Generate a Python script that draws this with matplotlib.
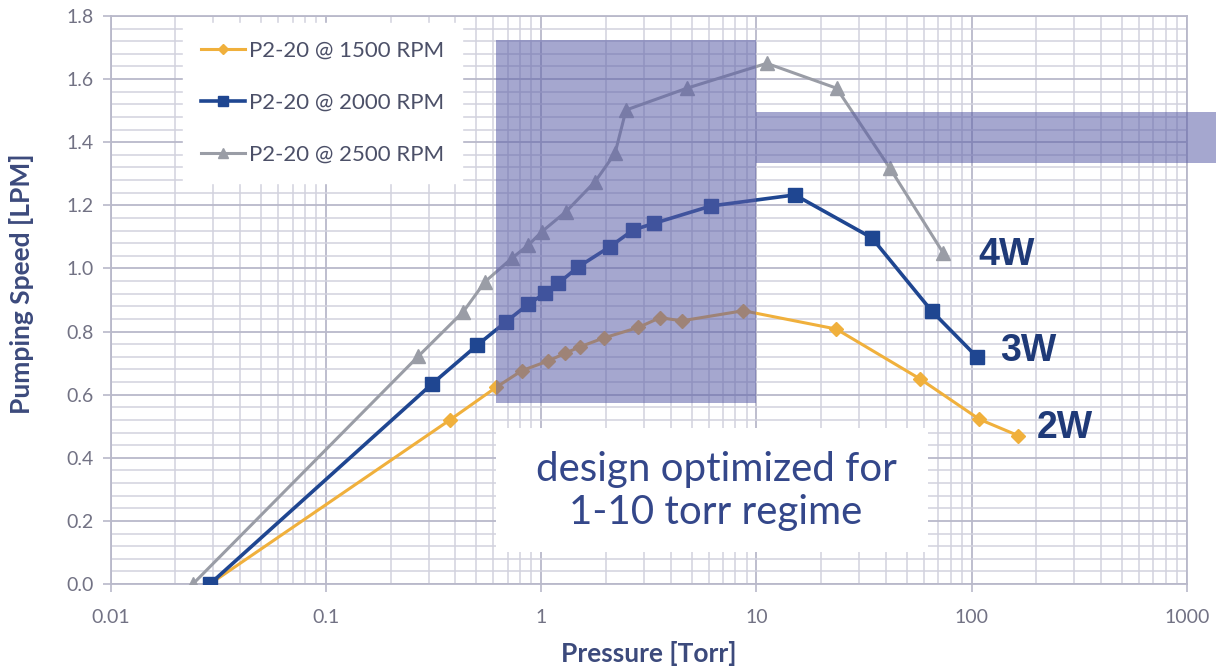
import matplotlib
matplotlib.use("Agg")
import matplotlib.pyplot as plt
from matplotlib.patches import Rectangle
from matplotlib.ticker import LogLocator, MultipleLocator, FixedLocator, FixedFormatter

# ---- data ----
p_1500 = [0.0289, 0.377, 0.617, 0.813, 1.08, 1.29, 1.52, 1.96, 2.83, 3.57, 4.50, 8.70, 23.5, 57.6, 108.7, 165]
s_1500 = [0.0, 0.520, 0.623, 0.676, 0.707, 0.731, 0.752, 0.780, 0.813, 0.844, 0.834, 0.866, 0.808, 0.650, 0.522, 0.470]

p_2000 = [0.0289, 0.310, 0.505, 0.687, 0.872, 1.042, 1.202, 1.489, 2.09, 2.68, 3.35, 6.16, 15.1, 34.4, 65.3, 105.7]
s_2000 = [0.0, 0.633, 0.757, 0.831, 0.887, 0.921, 0.953, 1.005, 1.069, 1.122, 1.143, 1.198, 1.233, 1.097, 0.865, 0.720]

p_2500 = [0.0241, 0.269, 0.435, 0.549, 0.730, 0.872, 1.006, 1.305, 1.781, 2.205, 2.48, 4.75, 11.18, 23.6, 41.8, 74.0]
s_2500 = [0.0, 0.722, 0.863, 0.958, 1.032, 1.074, 1.116, 1.180, 1.275, 1.365, 1.502, 1.571, 1.650, 1.571, 1.317, 1.048]

series_labels = ["P2-20 @ 1500 RPM", "P2-20 @ 2000 RPM", "P2-20 @ 2500 RPM"]
power_labels = ["2W", "3W", "4W"]
x_ticks = [0.01, 0.1, 1, 10, 100, 1000]
x_tick_labels = ["0.01", "0.1", "1", "10", "100", "1000"]
annotation_text = "design optimized for\n1-10 torr regime"

# ---- style ----
c_orange = "#f0b03c"
c_blue = "#1f4691"
c_gray = "#9a9da6"
grid_major = "#b9b9ca"
grid_minor = "#d2d2de"
tick_col = "#727284"
label_col = "#3c4a7c"
navy = "#1f3a78"
overlay = "#5c5fa8"

fig = plt.figure(figsize=(12.16, 6.66), dpi=100)
ax = fig.add_axes([0.091, 0.1231, 0.885, 0.8529])

ax.set_xscale("log")
ax.set_xlim(0.01, 1000)
ax.set_ylim(0, 1.8)

ax.xaxis.set_major_locator(FixedLocator(x_ticks))
ax.xaxis.set_major_formatter(FixedFormatter(x_tick_labels))
ax.xaxis.set_minor_locator(LogLocator(base=10, subs=range(2, 10), numticks=100))
ax.xaxis.set_minor_formatter(plt.NullFormatter())
ax.yaxis.set_major_locator(MultipleLocator(0.2))
ax.yaxis.set_minor_locator(MultipleLocator(0.04))
ax.yaxis.set_major_formatter(plt.FuncFormatter(lambda v, p: f"{v:.1f}"))

ax.grid(which="major", color=grid_major, lw=1.3, zorder=0)
ax.grid(which="minor", color=grid_minor, lw=1.1, zorder=0)
ax.set_axisbelow(True)
for s in ax.spines.values():
    s.set_color(grid_major)
    s.set_linewidth(1.3)

ax.tick_params(which="major", length=6, color=grid_major, width=1.2,
               labelcolor=tick_col, labelsize=14, pad=6)
ax.tick_params(which="minor", length=0)
for lab in ax.get_xticklabels() + ax.get_yticklabels():
    lab.set_family("Lato")
ax.tick_params(axis="x", pad=12)

ax.set_xlabel("Pressure [Torr]", fontsize=19, fontweight="bold", color=label_col,
              family="Lato", labelpad=11)
ax.set_ylabel("Pumping Speed [LPM]", fontsize=19, fontweight="bold", color=label_col,
              family="Lato")
ax.yaxis.set_label_coords(-0.071, 0.528)

l1, = ax.plot(p_1500, s_1500, color=c_orange, lw=2.2, marker="D", ms=7, zorder=3,
              label=series_labels[0])
l2, = ax.plot(p_2000, s_2000, color=c_blue, lw=2.6, marker="s", ms=10, zorder=4,
              label=series_labels[1])
l3, = ax.plot(p_2500, s_2500, color=c_gray, lw=2.2, marker="^", ms=10, zorder=3,
              label=series_labels[2])

# power labels beside last points
ax.text(201, 0.494, power_labels[0], fontsize=27, fontweight="bold",
        color=navy, family="Liberation Sans", va="center", ha="left", zorder=6)
ax.text(135, 0.738, power_labels[1], fontsize=27, fontweight="bold",
        color=navy, family="Liberation Sans", va="center", ha="left", zorder=6)
ax.text(107, 1.042, power_labels[2], fontsize=27, fontweight="bold",
        color=navy, family="Liberation Sans", va="center", ha="left", zorder=6)

# overlay rectangles
ax.add_patch(Rectangle((0.617, 0.574), 10 - 0.617, 1.724 - 0.574, facecolor=overlay,
                       alpha=0.55, lw=0, zorder=5))
ax.add_patch(Rectangle((10, 1.335), 1400 - 10, 1.497 - 1.335, facecolor=overlay,
                       alpha=0.55, lw=0, zorder=5, clip_on=False))

# white annotation box
ax.add_patch(Rectangle((0.617, 0.102), 62.8 - 0.617, 0.494 - 0.102, facecolor="white",
                       lw=0, zorder=5))
ax.text(6.5, 0.296, annotation_text, fontsize=29, fontweight="normal", color="#34478a",
        family="Lato", ha="center", va="center", linespacing=1.2, zorder=6)

leg = ax.legend(handles=[l1, l2, l3], loc="upper left", bbox_to_anchor=(0.067, 0.988),
                frameon=True, fancybox=False, framealpha=1, edgecolor="white",
                facecolor="white", fontsize=16, handlelength=2.0, handletextpad=0.2,
                labelspacing=1.45, borderpad=0.8, borderaxespad=0, markerscale=0.75)
for t in leg.get_texts():
    t.set_color("#4c5068")
    t.set_family("Lato")
leg.set_zorder(7)

fig.savefig("out.png", dpi=100)
